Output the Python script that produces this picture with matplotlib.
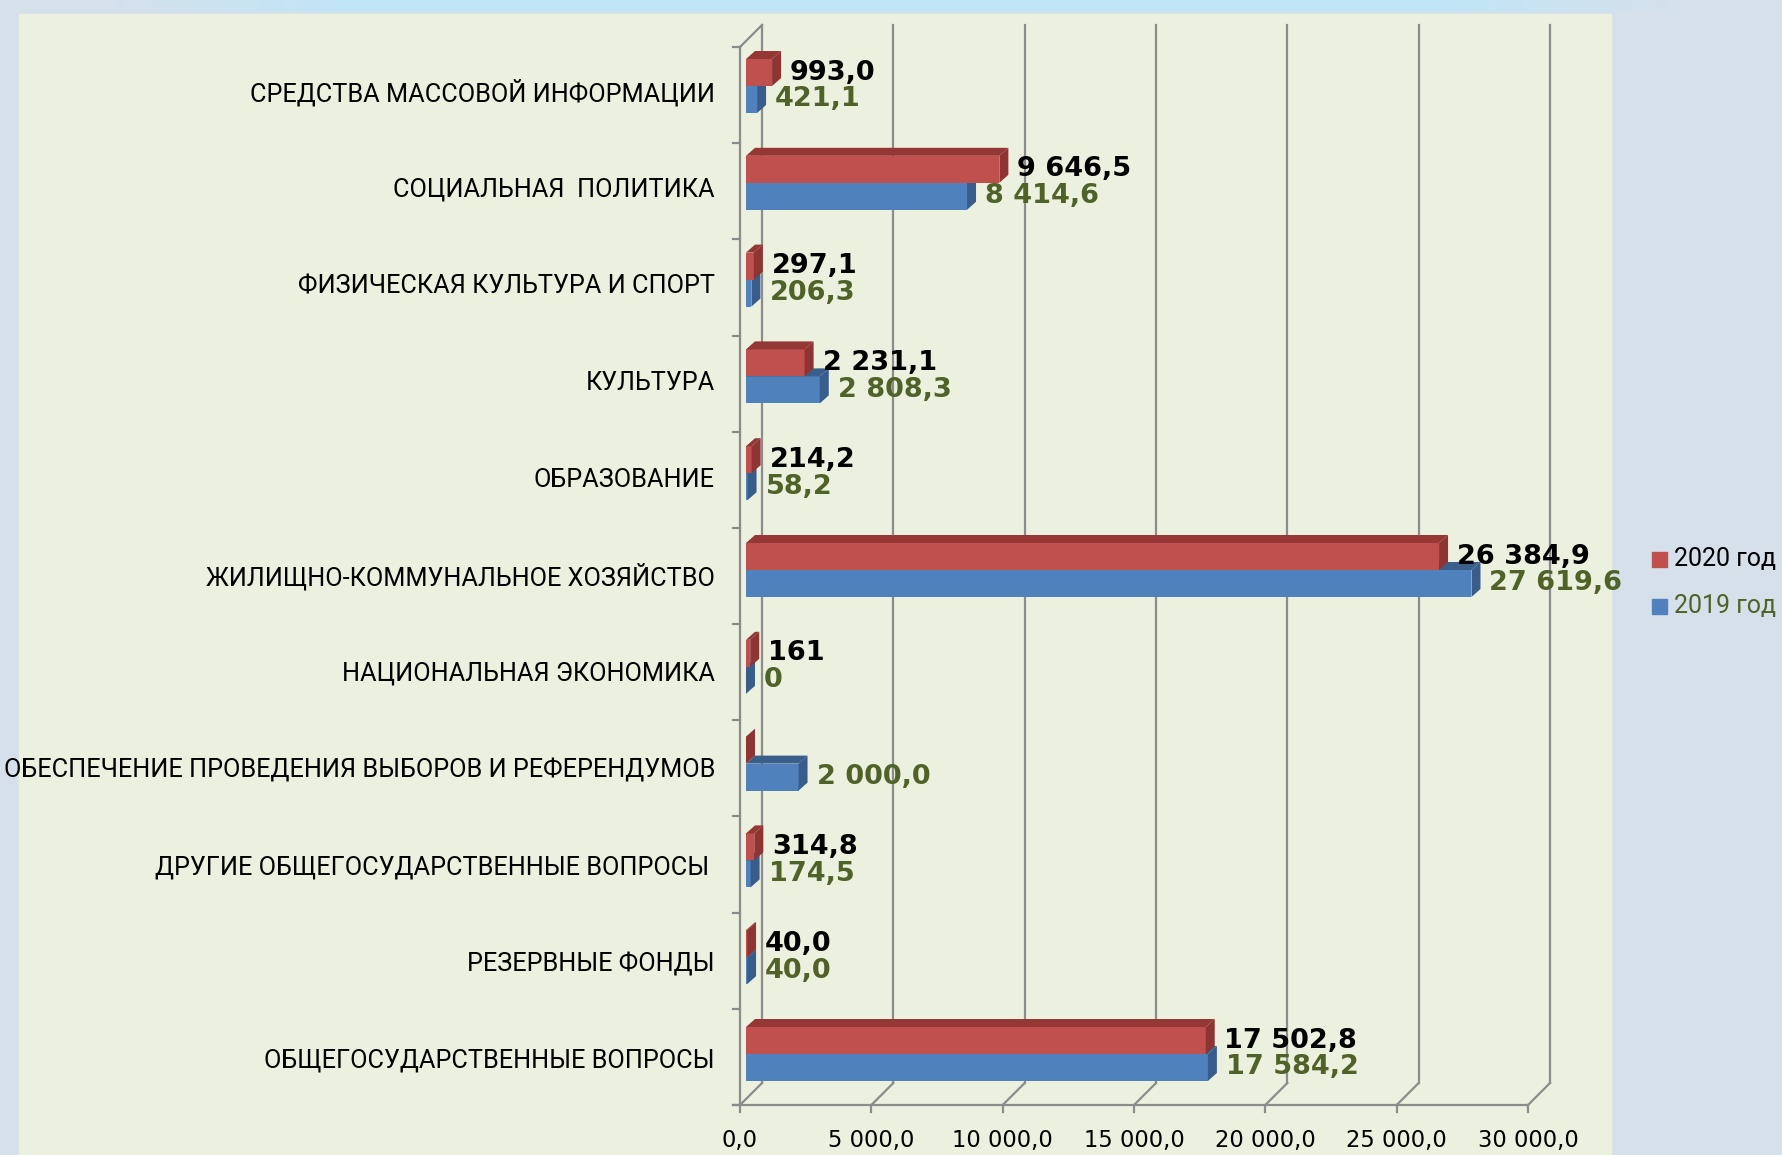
import numpy as np
import matplotlib
matplotlib.use("Agg")
import matplotlib.pyplot as plt
from matplotlib.patches import Rectangle

# categories from bottom to top
categories = [
    "ОБЩЕГОСУДАРСТВЕННЫЕ ВОПРОСЫ",
    "РЕЗЕРВНЫЕ ФОНДЫ",
    "ДРУГИЕ ОБЩЕГОСУДАРСТВЕННЫЕ ВОПРОСЫ ",
    "ОБЕСПЕЧЕНИЕ ПРОВЕДЕНИЯ ВЫБОРОВ И РЕФЕРЕНДУМОВ",
    "НАЦИОНАЛЬНАЯ ЭКОНОМИКА",
    "ЖИЛИЩНО-КОММУНАЛЬНОЕ ХОЗЯЙСТВО",
    "ОБРАЗОВАНИЕ",
    "КУЛЬТУРА",
    "ФИЗИЧЕСКАЯ КУЛЬТУРА И СПОРТ",
    "СОЦИАЛЬНАЯ  ПОЛИТИКА",
    "СРЕДСТВА МАССОВОЙ ИНФОРМАЦИИ",
]
values_2020 = [17502.8, 40.0, 314.8, 0.0, 161.0, 26384.9, 214.2, 2231.1, 297.1, 9646.5, 993.0]
values_2019 = [17584.2, 40.0, 174.5, 2000.0, 0.0, 27619.6, 58.2, 2808.3, 206.3, 8414.6, 421.1]
labels_2020 = ["17 502,8", "40,0", "314,8", "", "161", "26 384,9", "214,2", "2 231,1", "297,1", "9 646,5", "993,0"]
labels_2019 = ["17 584,2", "40,0", "174,5", "2 000,0", "0", "27 619,6", "58,2", "2 808,3", "206,3", "8 414,6", "421,1"]
x_ticks = [0, 5000, 10000, 15000, 20000, 25000, 30000]
x_tick_labels = ["0,0", "5 000,0", "10 000,0", "15 000,0", "20 000,0", "25 000,0", "30 000,0"]
series_names = ["2020 год", "2019 год"]

W, H = 1783, 1155
RED, RED_SIDE, RED_TOP = "#C0504D", "#8E3432", "#953735"
BLUE, BLUE_SIDE, BLUE_TOP = "#4F81BD", "#385D8A", "#3A5F8B"
OLIVE = "#4F6228"
GRID = "#8C8C8C"

# pixel anchors of the reference layout
X0, PXU = 740.0, 788.0 / 30000   # x pixel of value 0, pixels per unit
Y0, PYU = 1061.0, 96.8           # y pixel of first category, pixels per category


def ux(px):
    return px / PXU


def uy(px):
    return px / PYU


fig = plt.figure(figsize=(W / 100, H / 100), dpi=100)
fig.patch.set_facecolor("#D8E2EC")

# background: grey-blue with a light cyan band on top
bg = fig.add_axes([0, 0, 1, 1], zorder=-2)
bg.axis("off")
c_side = np.array([0.84, 0.88, 0.92])
c_cyan = np.array([0.75, 0.90, 0.97])
xs = np.linspace(0, 1, 200)
mix = np.clip(np.minimum((xs - 0.05) / 0.15, (0.95 - xs) / 0.15), 0, 1)
top = c_side[None, :] * (1 - mix[:, None]) + c_cyan[None, :] * mix[:, None]
img = np.repeat(c_side[None, None, :], 200, axis=1).repeat(100, axis=0)
img[:1] = top[None]
bg.imshow(img, aspect="auto", extent=[0, 1, 0, 1], interpolation="nearest")
bg.set_xlim(0, 1)
bg.set_ylim(0, 1)
fig.add_artist(Rectangle((19 / W, 0), (1611 - 19) / W, 1 - 14 / H, transform=fig.transFigure,
                         color="#ECF0DF", zorder=-1))

ax = fig.add_axes([0, 0, 1, 1])
ax.patch.set_visible(False)
ax.axis("off")
ax.set_xlim(-X0 / PXU, (W - X0) / PXU)
ax.set_ylim((Y0 - H) / PYU, Y0 / PYU)

f_lo = (Y0 - 1105) / PYU
f_hi = (Y0 - 47) / PYU
bx, by = ux(22), uy(22)
lw = 1.6

# back wall gridlines and floor diagonals
for t in x_ticks:
    ax.plot([t + bx, t + bx], [f_lo + by, f_hi + by], color=GRID, lw=lw, zorder=1)
    ax.plot([t, t + bx], [f_lo, f_lo + by], color=GRID, lw=lw, zorder=1)
    ax.plot([t, t], [f_lo, f_lo - uy(7)], color=GRID, lw=lw, zorder=1)
# front floor and left axis
ax.plot([-ux(7), x_ticks[-1]], [f_lo, f_lo], color=GRID, lw=lw, zorder=1)
ax.plot([0, 0], [f_lo, f_hi], color=GRID, lw=lw, zorder=1)
ax.plot([0, bx], [f_hi, f_hi + by], color=GRID, lw=lw, zorder=1)
for yt in np.linspace(f_lo, f_hi, len(categories) + 1):
    ax.plot([-ux(7), 0], [yt, yt], color=GRID, lw=lw, zorder=1)

for t, lab in zip(x_ticks, x_tick_labels):
    ax.text(t, (Y0 - 1140) / PYU, lab, ha="center", va="center", fontsize=16.3, color="black")

# bars with a simple 3D look
y = np.arange(len(categories))
bh = uy(27)
dxb, dyb = ux(6), uy(7)       # depth shift of the bar front
dxd, dyd = ux(9), uy(8)       # bar depth
red_c = y + dyb + bh / 2
blue_c = y + dyb - bh / 2


def draw_series(vals, centers, face, side, top, z):
    ax.barh(centers, vals, height=bh, left=dxb, color=face, edgecolor="none", zorder=z)
    for v, c in zip(vals, centers):
        x1 = dxb + v
        ylo, yhi = c - bh / 2, c + bh / 2
        ax.fill([x1, x1 + dxd, x1 + dxd, x1], [ylo, ylo + dyd, yhi + dyd, yhi],
                color=side, lw=0, zorder=z)
        ax.fill([dxb, dxb + dxd, x1 + dxd, x1], [yhi, yhi + dyd, yhi + dyd, yhi],
                color=top, lw=0, zorder=z)


draw_series(values_2019, blue_c, BLUE, BLUE_SIDE, BLUE_TOP, 2)
draw_series(values_2020, red_c, RED, RED_SIDE, RED_TOP, 3)

gap = ux(18)
for v, c, lab in zip(values_2020, red_c, labels_2020):
    ax.text(dxb + v + gap, c, lab, ha="left", va="center", fontsize=19.5,
            fontweight="bold", color="black", zorder=5)
for v, c, lab in zip(values_2019, blue_c, labels_2019):
    ax.text(dxb + v + gap, c, lab, ha="left", va="center", fontsize=19.5,
            fontweight="bold", color=OLIVE, zorder=5)

for i, cat in enumerate(categories):
    ax.text(-ux(25), i, cat, ha="right", va="center", fontsize=18.2, color="black",
            family="Roboto")

# legend
for (name, col, tcol, py) in [(series_names[0], RED, "black", 559),
                              (series_names[1], BLUE, OLIVE, 606)]:
    fig.add_artist(Rectangle((1652 / W, 1 - (py + 7.5) / H), 15 / W, 15 / H,
                             transform=fig.transFigure, color=col))
    fig.text(1674 / W, 1 - py / H, name, ha="left", va="center", fontsize=18,
             color=tcol, family="Roboto")

fig.savefig("out.png", dpi=100, facecolor=fig.get_facecolor())
